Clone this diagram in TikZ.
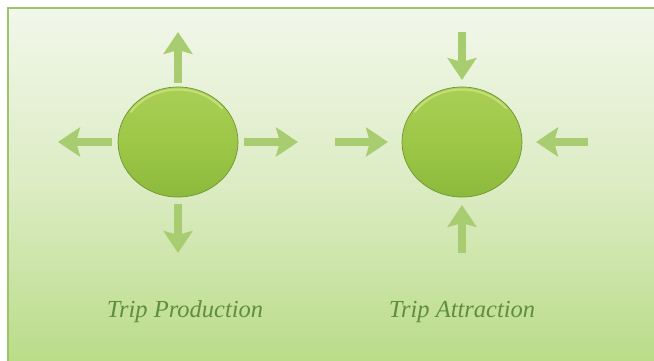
\documentclass[tikz,border=0pt]{standalone}
\usepackage{fontspec}
\setmainfont{Liberation Serif}
\usetikzlibrary{shapes.geometric,arrows.meta}
\definecolor{bgtop}{HTML}{F2F7EA}
\definecolor{bgmid}{HTML}{DCECC4}
\definecolor{bgbot}{HTML}{BADC88}
\definecolor{framec}{HTML}{9CC46A}
\definecolor{ballhi}{HTML}{A9CF55}
\definecolor{ballmid}{HTML}{9DC747}
\definecolor{balllo}{HTML}{8CBA3C}
\definecolor{balledge}{HTML}{6E9632}
\definecolor{ballrim}{HTML}{C4DE7A}
\definecolor{arrc}{HTML}{A8CD70}
\definecolor{txtc}{HTML}{5E8E3E}
\tikzset{
  ball/.style={ellipse, minimum width=120pt, minimum height=110pt, inner sep=0pt, outer sep=0pt,
    top color=ballhi, bottom color=balllo, middle color=ballmid, draw=balledge, line width=0.7pt},
  rim/.style={ballrim, line width=2pt, line cap=round},
  arr/.style={draw=arrc, line width=8pt, -{Stealth[length=22pt,width=29pt,inset=4pt]}},
  lbl/.style={text=txtc, font=\fontsize{24.5}{28}\selectfont\itshape, inner sep=0pt}
}
\begin{document}
\begin{tikzpicture}[x=1pt,y=-1pt]
\useasboundingbox (0,0) rectangle (654,361);
\fill[white] (0,0) rectangle (654,361);
\shade[top color=bgtop, bottom color=bgbot, middle color=bgmid] (8,8) rectangle (654,361);
\draw[framec, line width=2pt] (8,361) -- (8,8) -- (654,8);
% Trip Production
\node[ball] (p) at (178,142) {};
\draw[rim] ([shift={(145:57.5pt and 52.5pt)}]p.center) arc[start angle=145, end angle=40, x radius=57.5pt, y radius=52.5pt];
\coordinate (pu) at (178,32);
\coordinate (pl) at (58,142);
\coordinate (pr) at (298,142);
\coordinate (pd) at (178,253);
\draw[arr, shorten <=4pt] (p.north) -- (pu);
\draw[arr, shorten <=6pt] (p.west) -- (pl);
\draw[arr, shorten <=6pt] (p.east) -- (pr);
\draw[arr, shorten <=7pt] (p.south) -- (pd);
% Trip Attraction
\node[ball] (a) at (462,142) {};
\draw[rim] ([shift={(145:57.5pt and 52.5pt)}]a.center) arc[start angle=145, end angle=40, x radius=57.5pt, y radius=52.5pt];
\coordinate (au) at (462,32);
\coordinate (al) at (335,142);
\coordinate (ar) at (588,142);
\coordinate (ad) at (462,253);
\draw[arr, shorten >=7pt] (au) -- (a.north);
\draw[arr, shorten >=14pt] (al) -- (a.west);
\draw[arr, shorten >=14pt] (ar) -- (a.east);
\draw[arr, shorten >=8pt] (ad) -- (a.south);
% labels
\node[lbl, anchor=base] (lp) at (185,317) {Trip Production};
\node[lbl, anchor=base] (la) at (462,317) {Trip Attraction};
\end{tikzpicture}
\end{document}
